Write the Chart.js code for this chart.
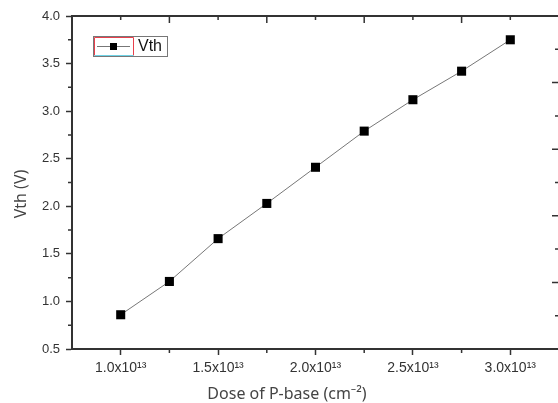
<!DOCTYPE html>
<html>
<head>
<meta charset="utf-8">
<script src="https://cdn.jsdelivr.net/npm/chart.js@4"></script>
<style>
  html, body { margin: 0; padding: 0; background: #fff; overflow: hidden; }
  .chart-box { width: 566px; height: 403px; }
</style>
</head>
<body>
<div class="chart-box"><canvas id="vthChart"></canvas></div>
<script>
// dose in units of 1e13 cm^-2
const doses = [1.0, 1.25, 1.5, 1.75, 2.0, 2.25, 2.5, 2.75, 3.0];
const vth = [0.86, 1.21, 1.66, 2.03, 2.41, 2.79, 3.12, 3.42, 3.75];
const xTickValues = [1.0, 1.5, 2.0, 2.5, 3.0];
const xMinorValues = [1.25, 1.75, 2.25, 2.75];
const yMinorValues = [0.75, 1.25, 1.75, 2.25, 2.75, 3.25, 3.75];
const frameTickValues = [1, 2, 3, 4, 5, 6, 7, 8, 9];

const axisColor = "#333";
const textColor = "#333";

// minor ticks, inside ticks on top / right, axis titles, legend
const framePlugin = {
  id: "frame",
  afterDraw(chart) {
    const { ctx, chartArea, scales } = chart;
    const { left, right, top, bottom } = chartArea;
    ctx.save();
    ctx.strokeStyle = axisColor;
    ctx.lineWidth = 1.5;
    ctx.beginPath();
    xMinorValues.forEach((v) => {
      const px = scales.x.getPixelForValue(v);
      ctx.moveTo(px, bottom);
      ctx.lineTo(px, bottom + 4);
    });
    yMinorValues.forEach((v) => {
      const py = scales.y.getPixelForValue(v);
      ctx.moveTo(left, py);
      ctx.lineTo(left - 4, py);
    });
    frameTickValues.forEach((v) => {
      const len = v % 2 === 0 ? 7 : 4;
      const px = scales.x2.getPixelForValue(v);
      ctx.moveTo(px, top);
      ctx.lineTo(px, top + len);
      const py = scales.y2.getPixelForValue(v);
      ctx.moveTo(right, py);
      ctx.lineTo(right - len, py);
    });
    ctx.stroke();

    // axis titles
    ctx.fillStyle = "#444";
    ctx.font = "16px 'Noto Sans', sans-serif";
    ctx.textAlign = "center";
    ctx.textBaseline = "middle";
    ctx.fillText("Dose of P-base (cm\u207B\u00B2)", left + 215, 394);
    ctx.save();
    ctx.translate(21, 194);
    ctx.rotate(-Math.PI / 2);
    ctx.fillText("Vth (V)", 0, 0);
    ctx.restore();

    // legend
    const lx = left + 21;
    const ly = top + 20;
    ctx.lineWidth = 1;
    ctx.strokeStyle = "#777";
    ctx.strokeRect(lx + 0.5, ly + 0.5, 74, 20);
    ctx.strokeStyle = "#e8404c";
    ctx.beginPath();
    ctx.moveTo(lx + 1.5, ly + 19.5);
    ctx.lineTo(lx + 1.5, ly + 1.5);
    ctx.lineTo(lx + 40.5, ly + 1.5);
    ctx.lineTo(lx + 40.5, ly + 19.5);
    ctx.stroke();
    ctx.strokeStyle = "#6fd3e6";
    ctx.beginPath();
    ctx.moveTo(lx + 1.5, ly + 19.5);
    ctx.lineTo(lx + 40.5, ly + 19.5);
    ctx.stroke();
    const ds = chart.data.datasets[0];
    ctx.strokeStyle = ds.borderColor;
    ctx.beginPath();
    ctx.moveTo(lx + 4, ly + 10.5);
    ctx.lineTo(lx + 37, ly + 10.5);
    ctx.stroke();
    ctx.fillStyle = ds.pointBackgroundColor;
    ctx.fillRect(lx + 17, ly + 7, 7, 7);
    ctx.fillStyle = "#111";
    ctx.font = "16px 'Liberation Sans', Arial, sans-serif";
    ctx.textAlign = "left";
    ctx.fillText(ds.label, lx + 45, ly + 11);
    ctx.restore();
  },
};

const ctx = document.getElementById("vthChart").getContext("2d");
const vthChart = new Chart(ctx, {
  type: "line",
  data: {
    datasets: [
      {
        label: "Vth",
        data: doses.map((d, i) => ({ x: d, y: vth[i] })),
        borderColor: "#777",
        borderWidth: 1,
        pointStyle: "rect",
        pointRadius: 6.4,
        pointBackgroundColor: "#000",
        pointBorderColor: "#000",
        pointBorderWidth: 0,
        tension: 0,
      },
    ],
  },
  options: {
    responsive: true,
    maintainAspectRatio: false,
    animation: false,
    layout: { padding: 0 },
    scales: {
      x: {
        type: "linear",
        position: "bottom",
        min: 0.75,
        max: 3.25,
        afterBuildTicks: (scale) => {
          scale.ticks = xTickValues.map((v) => ({ value: v }));
        },
        afterFit: (scale) => {
          scale.height = 54;
        },
        grid: {
          drawOnChartArea: false,
          tickLength: 6,
          tickWidth: 1.5,
          tickColor: axisColor,
        },
        border: { color: axisColor, width: 2 },
        ticks: {
          color: textColor,
          padding: 5,
          maxRotation: 0,
          font: { size: 14, family: "'Liberation Sans', Arial, sans-serif" },
          callback: (value) => value.toFixed(1) + "x10\u00B9\u00B3",
        },
      },
      y: {
        type: "linear",
        position: "left",
        min: 0.5,
        max: 4.0,
        afterFit: (scale) => {
          scale.width = 72;
        },
        grid: {
          drawOnChartArea: false,
          tickLength: 6,
          tickWidth: 1.5,
          tickColor: axisColor,
        },
        border: { color: axisColor, width: 2 },
        ticks: {
          stepSize: 0.5,
          color: textColor,
          padding: 6,
          font: { size: 13, family: "'Liberation Sans', Arial, sans-serif" },
          callback: (value) => value.toFixed(1),
        },
      },
      x2: {
        type: "linear",
        position: "top",
        min: 0,
        max: 10,
        afterFit: (scale) => {
          scale.height = 16;
        },
        grid: { drawOnChartArea: false, drawTicks: false },
        border: { color: axisColor, width: 2 },
        ticks: { display: false },
      },
      y2: {
        type: "linear",
        position: "right",
        min: 0,
        max: 10,
        afterFit: (scale) => {
          scale.width = 7;
        },
        grid: { drawOnChartArea: false, drawTicks: false },
        border: { color: axisColor, width: 2 },
        ticks: { display: false },
      },
    },
    plugins: {
      legend: { display: false },
      tooltip: { enabled: false },
    },
  },
  plugins: [framePlugin],
});
</script>
</body>
</html>
